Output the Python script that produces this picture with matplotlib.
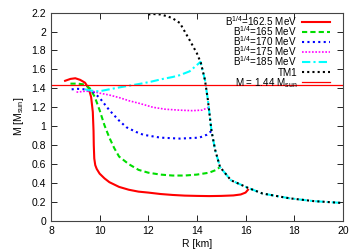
import matplotlib.pyplot as plt
from matplotlib.lines import Line2D
from matplotlib.ticker import FuncFormatter

plt.rcParams["font.family"] = ["Liberation Sans", "DejaVu Sans"]
plt.rcParams["mathtext.fontset"] = "custom"
plt.rcParams["mathtext.rm"] = "Liberation Sans"
plt.rcParams["mathtext.it"] = "Liberation Sans:italic"

# mass-radius curves, R [km], M [Msun]
r_1625 = [8.58, 8.8, 9.0, 9.2, 9.4, 9.55, 9.65, 9.72, 9.75, 9.76, 9.78, 9.82, 9.88, 10.0, 10.2, 10.4, 10.8,
          11.2, 11.6, 12.0, 12.5, 13.0, 13.5, 14.0, 14.5, 15.0, 15.5, 15.8, 16.0, 16.1]
m_1625 = [1.48, 1.50, 1.507, 1.49, 1.46, 1.40, 1.31, 1.15, 0.95, 0.80, 0.66, 0.59, 0.55, 0.50, 0.45, 0.41, 0.36,
          0.33, 0.31, 0.30, 0.285, 0.275, 0.268, 0.265, 0.263, 0.265, 0.27, 0.28, 0.30, 0.33]

r_165 = [8.8, 9.1, 9.4, 9.6, 9.8, 10.0, 10.2, 10.4, 10.6, 10.8, 11.2, 11.6, 12.0, 12.5, 13.0, 13.5, 14.0,
         14.5, 14.8, 14.95]
m_165 = [1.45, 1.45, 1.44, 1.40, 1.31, 1.17, 1.01, 0.88, 0.77, 0.68, 0.60, 0.54, 0.51, 0.49, 0.48, 0.48, 0.49,
         0.51, 0.54, 0.57]

r_170 = [8.85, 9.1, 9.4, 9.7, 10.0, 10.4, 10.8, 11.1, 11.5, 11.8, 12.5, 13.3, 14.1, 14.4, 14.6]
m_170 = [1.39, 1.395, 1.39, 1.37, 1.30, 1.17, 1.06, 0.99, 0.94, 0.91, 0.88, 0.87, 0.88, 0.91, 0.95]

r_175 = [9.05, 9.4, 9.7, 10.0, 10.4, 10.84, 11.2, 11.66, 12.2, 12.7, 13.3, 13.8, 14.2, 14.5]
m_175 = [1.36, 1.37, 1.37, 1.35, 1.33, 1.30, 1.27, 1.24, 1.20, 1.18, 1.17, 1.165, 1.17, 1.20]

r_185 = [9.4, 9.6, 9.8, 10.0, 10.4, 10.8, 11.25, 11.7, 12.1, 12.6, 13.0, 13.3, 13.7, 14.15,
         14.33, 14.45, 14.5, 14.6, 14.75, 14.95, 15.4, 16.1, 16.7, 17.8, 18.8, 20.0]
m_185 = [1.39, 1.38, 1.37, 1.37, 1.39, 1.41, 1.43, 1.45, 1.47, 1.50, 1.52, 1.54, 1.58, 1.68,
         1.49, 1.28, 1.17, 0.95, 0.75, 0.57, 0.43, 0.35, 0.29, 0.24, 0.21, 0.19]

r_tm1 = [12.0, 12.2, 12.5, 12.8, 13.0, 13.3, 13.7, 14.0, 14.16, 14.33, 14.45, 14.5, 14.6, 14.75, 14.95,
         15.4, 16.1, 16.7, 17.8, 18.8, 20.0]
m_tm1 = [2.18, 2.185, 2.18, 2.16, 2.14, 2.09, 1.91, 1.77, 1.67, 1.49, 1.28, 1.17, 0.95, 0.75, 0.57,
         0.43, 0.35, 0.29, 0.24, 0.21, 0.19]

m_limit = 1.44

labels = ["B$^{1/4}$=162.5 MeV", "B$^{1/4}$=165 MeV", "B$^{1/4}$=170 MeV",
          "B$^{1/4}$=175 MeV", "B$^{1/4}$=185 MeV", "TM1", "M = 1.44 M$_{\\rm sun}$"]

styles = [
    dict(color="#ff0000", lw=1.5, ls="-"),
    dict(color="#00dd00", lw=1.5, ls=(0, (2.5, 1.5))),
    dict(color="#0000ff", lw=1.5, ls=(0, (1, 1.6))),
    dict(color="#ff00ff", lw=1.2, ls=(0, (1, 1))),
    dict(color="#00ffff", lw=1.5, ls=(0, (4, 1.5, 1, 1.5))),
    dict(color="black", lw=1.5, ls=(0, (1, 1.5))),
    dict(color="#ff0000", lw=0.9, ls="-"),
]

fig = plt.figure(figsize=(3.59, 2.52), dpi=100)
ax = fig.add_axes([0.142, 0.123, 0.813, 0.827])

curves = [(r_1625, m_1625), (r_165, m_165), (r_170, m_170), (r_175, m_175), (r_185, m_185), (r_tm1, m_tm1)]
for (r, m), st in zip(curves, styles):
    ax.plot(r, m, **st)
ax.axhline(m_limit, **styles[6])

ax.set_xlim(8, 20)
ax.set_ylim(0, 2.2)
ax.set_xticks(range(8, 21, 2))
ax.set_yticks([i * 0.2 for i in range(12)])
ax.yaxis.set_major_formatter(FuncFormatter(lambda v, p: f"{v:.1f}".rstrip("0").rstrip(".")))
ax.tick_params(direction="in", top=True, right=True, labelsize=7.5, length=4, width=0.6)
for s in ax.spines.values():
    s.set_linewidth(0.8)
    s.set_color("#444444")

ax.set_xlabel("R [km]", fontsize=7.5, labelpad=2)
ax.set_ylabel("M [M$_{\\rm sun}$]", fontsize=7.5, labelpad=4)

# gnuplot-style key: text right-aligned, sample line on the right, even rows
row0, dy = 0.956, 0.0483
for i, (st, lab) in enumerate(zip(styles, labels)):
    y = row0 - i * dy
    ax.text(0.843, y - 0.018, lab, transform=ax.transAxes, ha="right", va="baseline", fontsize=7.1)
    ax.add_line(Line2D([0.860, 0.956], [y, y], transform=ax.transAxes, clip_on=False, **st))

fig.savefig("out.png", dpi=100)
